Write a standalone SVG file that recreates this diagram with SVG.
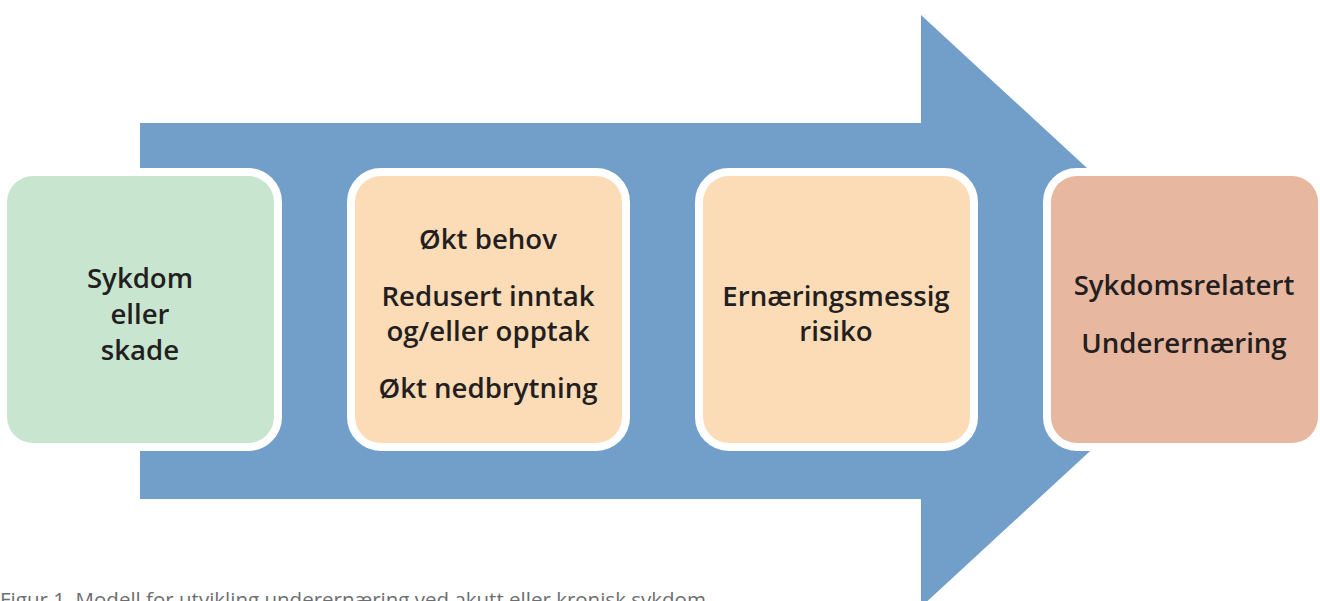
<svg xmlns="http://www.w3.org/2000/svg" width="1320" height="601" viewBox="0 0 1320 601">
<style>
.box{stroke:#ffffff;stroke-width:16;paint-order:stroke}
.t{font-family:"Open Sans","Noto Sans",sans-serif;font-weight:600;font-size:27.6px;fill:#231f20;text-anchor:middle}
.cap{font-family:"Open Sans","Noto Sans",sans-serif;font-size:20.5px;fill:#6d6e71}
</style>
<rect width="1320" height="601" fill="#ffffff"/>
<g id="connectors">
<polygon points="140,123 921,123 921,15 1242,311 921,607 921,499 140,499" fill="#729fca"/>
</g>
<g id="node1">
<rect class="box" x="7" y="176" width="267" height="267" rx="26" fill="#c8e5d0"/>
<text class="t" x="140" y="288">Sykdom</text>
<text class="t" x="140" y="324">eller</text>
<text class="t" x="140" y="360">skade</text>
</g>
<g id="node2">
<rect class="box" x="355" y="176" width="267" height="267" rx="26" fill="#fcdbb7"/>
<text class="t" x="488" y="249">Økt behov</text>
<text class="t" x="488" y="306">Redusert inntak</text>
<text class="t" x="488" y="341">og/eller opptak</text>
<text class="t" x="488" y="398">Økt nedbrytning</text>
</g>
<g id="node3">
<rect class="box" x="703" y="176" width="267" height="267" rx="26" fill="#fcdbb7"/>
<text class="t" x="836" y="306">Ernæringsmessig</text>
<text class="t" x="836" y="341">risiko</text>
</g>
<g id="node4">
<rect class="box" x="1051" y="176" width="267" height="267" rx="26" fill="#e7b7a0"/>
<text class="t" x="1184" y="295">Sykdomsrelatert</text>
<text class="t" x="1184" y="353">Underernæring</text>
</g>
<text class="cap" x="0" y="607">Figur 1. Modell for utvikling underernæring ved akutt eller kronisk sykdom</text>
</svg>
